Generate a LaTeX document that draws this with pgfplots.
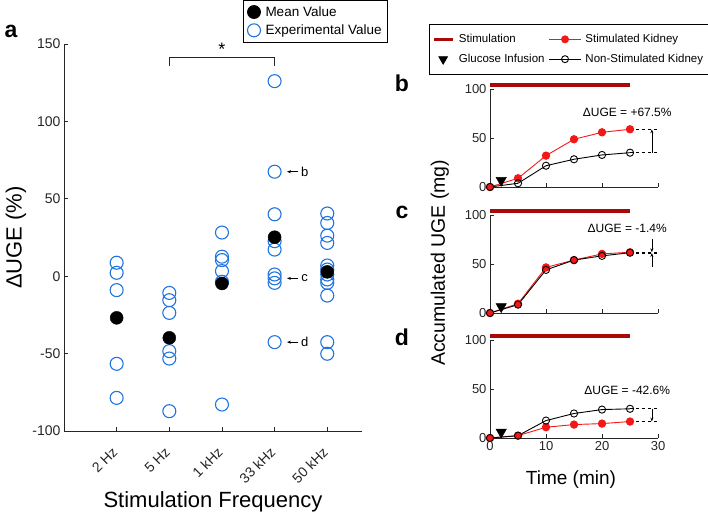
\documentclass[border=0pt]{standalone}
\usepackage{fontspec}
\setmainfont{Liberation Sans}
\usepackage{pgfplots}
\pgfplotsset{compat=1.18}
\usetikzlibrary{arrows.meta}
\definecolor{expblue}{HTML}{1F74E0}
\definecolor{stimred}{HTML}{F21818}
\definecolor{barred}{HTML}{A80A0A}
\definecolor{axgray}{HTML}{262626}

\pgfplotsset{
  matlab/.style={scale only axis, clip=false, anchor=south west,
    axis x line*=bottom, axis y line*=left, tick align=inside, major tick length=4pt,
    axis line style={axgray, line width=0.8pt}, tick style={axgray, line width=0.8pt},
    /pgf/number format/assume math mode=true},
  panel/.style={matlab, width=168pt, height=98pt, xmin=0, xmax=30, ymin=0, ymax=100,
    xtick={0,10,20,30}, ytick={0,50,100},
    tick label style={font=\fontsize{13}{15}\selectfont, text=axgray}},
  stimk/.style={stimred, line width=0.9pt, mark=*, mark size=3.7pt, mark options={fill=stimred, draw=stimred}},
  nonk/.style={black, line width=0.9pt, mark=o, mark size=3.6pt, mark options={line width=0.9pt}},
  glu/.style={only marks, mark=triangle*, mark size=6pt, mark options={rotate=180, fill=black}},
  stimbar/.style={barred, line width=4pt},
  shortleg/.style={legend image code/.code={\draw[##1] (0pt,0pt) -- (19pt,0pt);}},
  longleg/.style={legend image code/.code={\draw[mark repeat=2,mark phase=2,##1] plot coordinates {(0pt,0pt) (16pt,0pt) (32pt,0pt)};}},
  markleg/.style={legend image code/.code={\draw[##1] plot coordinates {(9pt,0pt)};}},
}
\newcommand{\dUGE}[2]{\node[font=\fontsize{12}{14}\selectfont] at (axis cs:24.5,#1) {ΔUGE = #2};}

\begin{document}
\begin{tikzpicture}
\path[use as bounding box] (0,0) rectangle (708pt,513pt);

% panel a
\begin{axis}[matlab, at={(64pt,82pt)}, width=298pt, height=387pt,
  xmin=0, xmax=5.66, ymin=-100, ymax=150,
  xtick={1,2,3,4,5}, xticklabels={2 Hz,5 Hz,1 kHz,33 kHz,50 kHz},
  ytick={-100,-50,0,50,100,150},
  tick label style={font=\fontsize{14}{16}\selectfont, text=axgray},
  xticklabel style={yshift=-18pt, xshift=-1pt, rotate=45, anchor=east, inner sep=1pt},
  xlabel={Stimulation Frequency}, ylabel={ΔUGE (\%)},
  label style={font=\fontsize{22}{25}\selectfont},
  xlabel style={at={(axis description cs:0.5,-0.183)}, anchor=center},
  ylabel style={at={(axis description cs:-0.161,0.5)}, anchor=center},
  legend style={at={(axis description cs:0.601,1.1137)}, anchor=north west, draw=black, line width=0.8pt,
    font=\fontsize{13.5}{16}\selectfont, row sep=3pt, inner xsep=4pt, inner ysep=4pt,
    /tikz/every odd column/.append style={column sep=3pt}},
  legend cell align=left,
]
\addlegendimage{only marks, mark=*, mark size=6.5pt, mark options={fill=black, draw=black}}
\addlegendentry{Mean Value}
\addlegendimage{only marks, mark=o, mark size=6.5pt, mark options={draw=expblue, line width=1.1pt}}
\addlegendentry{Experimental Value}
\addplot[only marks, mark=o, mark size=6.5pt, mark options={draw=expblue, line width=1.1pt}, forget plot] coordinates {
  (1,8.7) (1,2.2) (1,-9.0) (1,-56.6) (1,-78.6)
  (2,-10.8) (2,-15.5) (2,-23.7) (2,-48.4) (2,-53.2) (2,-87.2)
  (3,28.2) (3,12.6) (3,10.4) (3,3.3) (3,-3.6) (3,-82.9)
  (4,126.0) (4,67.5) (4,40.0) (4,22.6) (4,17.2) (4,1.1) (4,-1.4) (4,-4.3) (4,-42.6)
  (5,40.5) (5,34.4) (5,26.2) (5,21.5) (5,6.9) (5,4.3) (5,1.1) (5,-2.1) (5,-4.3) (5,-12.5) (5,-42.6) (5,-50.1)
};
\addplot[only marks, mark=*, mark size=6.5pt, mark options={fill=black, draw=black}, forget plot] coordinates {
  (1,-26.9) (2,-39.8) (3,-4.7) (4,25.2) (5,2.8)
};
\draw[axgray, line width=1pt] (axis cs:2,135.7) -- (axis cs:2,141) -- (axis cs:4,141) -- (axis cs:4,135.7);
\node[font=\fontsize{18}{20}\selectfont] at (axis cs:3,146.5) {*};
\draw[-{Stealth[length=4pt]}, line width=0.7pt] (axis cs:4.445,67.5) -- (axis cs:4.235,67.5);
\node[font=\fontsize{13}{15}\selectfont] at (axis cs:4.57,67.5) {b};
\draw[-{Stealth[length=4pt]}, line width=0.7pt] (axis cs:4.445,-1.4) -- (axis cs:4.235,-1.4);
\node[font=\fontsize{13}{15}\selectfont] at (axis cs:4.57,-1.4) {c};
\draw[-{Stealth[length=4pt]}, line width=0.7pt] (axis cs:4.445,-42.6) -- (axis cs:4.235,-42.6);
\node[font=\fontsize{13}{15}\selectfont] at (axis cs:4.57,-42.6) {d};
\end{axis}

% panel b
\begin{axis}[panel, at={(490pt,326pt)}, xticklabels={},
  legend style={at={(axis description cs:-0.363,1.663)}, anchor=north west, draw=black, line width=0.8pt,
    font=\fontsize{11.5}{14}\selectfont, row sep=6pt, inner xsep=3pt, inner ysep=8pt,
    /tikz/every odd column/.append style={column sep=2pt},
    /tikz/every even column/.append style={column sep=2pt}},
  legend columns=2, legend cell align=left,
]
\addlegendimage{stimbar, line width=3.5pt, shortleg}
\addlegendentry{Stimulation}
\addlegendimage{stimk, mark size=3.5pt, longleg}
\addlegendentry{Stimulated Kidney}
\addlegendimage{glu, mark size=5pt, markleg}
\addlegendentry{Glucose Infusion}
\addlegendimage{nonk, mark size=3.5pt, longleg}
\addlegendentry{Non-Stimulated Kidney}
\addplot[stimbar, forget plot] coordinates {(0,104) (25,104)};
\addplot[stimk, forget plot] coordinates {(0,0) (5,8.9) (10,32) (15,48.7) (20,55.8) (25,58.9)};
\addplot[nonk, forget plot] coordinates {(0,0) (5,3.8) (10,21.7) (15,28.3) (20,32.7) (25,35)};
\addplot[glu, forget plot] coordinates {(2,6.8)};
\draw[dashed, line width=0.6pt] (axis cs:25,58.9) -- (axis cs:29.8,58.9);
\draw[dashed, line width=0.6pt] (axis cs:25,35) -- (axis cs:29.8,35);
\draw[-{Stealth[length=4pt]}, line width=0.7pt] (axis cs:28.9,35) -- (axis cs:28.9,58.9);
\dUGE{76}{+67.5\%}
\end{axis}

% panel c
\begin{axis}[panel, at={(490pt,200pt)}, xticklabels={},
  ylabel={Accumulated UGE (mg)}, ylabel style={font=\fontsize{19.5}{22}\selectfont, at={(axis description cs:-0.298,0.512)}, anchor=center},
]
\addplot[stimbar] coordinates {(0,104) (25,104)};
\addplot[stimk] coordinates {(0,0) (5,9.5) (10,46.5) (15,54) (20,60.3) (25,62)};
\addplot[nonk] coordinates {(0,0) (5,8.5) (10,44) (15,54) (20,58.3) (25,61.5)};
\addplot[glu] coordinates {(2,6.5)};
\draw[dashed, line width=0.6pt] (axis cs:25,62) -- (axis cs:29.8,62);
\draw[dashed, line width=0.6pt] (axis cs:25,61.2) -- (axis cs:29.8,61.2);
\draw[-{Stealth[length=4pt]}, line width=0.7pt] (axis cs:28.9,76) -- (axis cs:28.9,62);
\draw[-{Stealth[length=4pt]}, line width=0.7pt] (axis cs:28.9,47) -- (axis cs:28.9,61.2);
\dUGE{86.6}{-1.4\%}
\end{axis}

% panel d
\begin{axis}[panel, at={(490pt,75pt)},
  xlabel={Time (min)}, xlabel style={font=\fontsize{19}{22}\selectfont, at={(axis description cs:0.482,-0.427)}, anchor=center},
]
\addplot[stimbar] coordinates {(0,104) (25,104)};
\addplot[stimk] coordinates {(0,0) (5,2.4) (10,11) (15,13.7) (20,14.7) (25,16.8)};
\addplot[nonk] coordinates {(0,0) (5,2.4) (10,17.8) (15,25) (20,29) (25,29.8)};
\addplot[glu] coordinates {(2,6)};
\draw[dashed, line width=0.6pt] (axis cs:25,29.8) -- (axis cs:29.8,29.8);
\draw[dashed, line width=0.6pt] (axis cs:25,16.8) -- (axis cs:29.8,16.8);
\draw[-{Stealth[length=4pt]}, line width=0.7pt] (axis cs:28.9,29.8) -- (axis cs:28.9,16.8);
\dUGE{48.8}{-42.6\%}
\end{axis}

\node[font=\fontsize{23}{25}\selectfont\bfseries] at (11pt,482pt) {a};
\node[font=\fontsize{23}{25}\selectfont\bfseries] at (402pt,430pt) {b};
\node[font=\fontsize{23}{25}\selectfont\bfseries] at (402pt,301pt) {c};
\node[font=\fontsize{23}{25}\selectfont\bfseries] at (402pt,176pt) {d};
\end{tikzpicture}
\end{document}
